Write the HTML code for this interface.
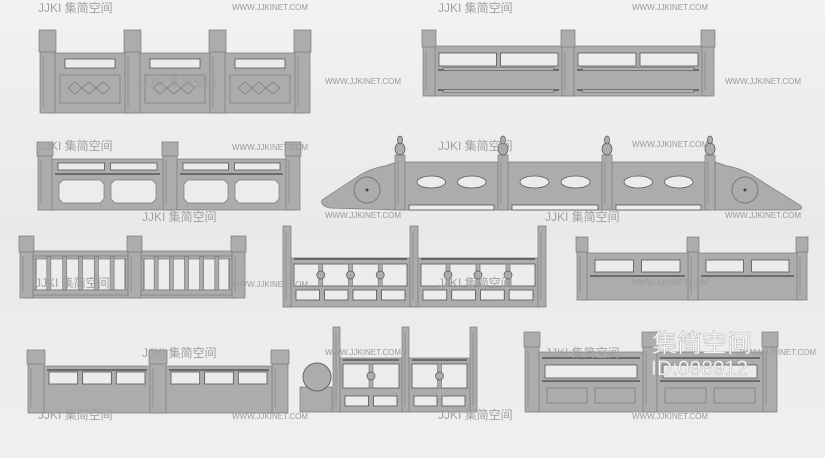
<!DOCTYPE html>
<html><head><meta charset="utf-8">
<style>
html,body{margin:0;padding:0;}
body{width:825px;height:458px;overflow:hidden;background:linear-gradient(180deg,#f2f2f2 0%,#e9e9e9 50%,#f0f0f0 100%);font-family:"Liberation Sans","Noto Sans CJK SC",sans-serif;}
svg{position:absolute;left:0;top:0;}
.w{font-family:"Liberation Sans",sans-serif;font-size:8px;fill:#9a9a9a;}
.j{font-family:"Liberation Sans","Noto Sans CJK SC",sans-serif;font-size:12px;fill:#a0a0a0;}
.big{font-family:"Liberation Sans","Noto Sans CJK SC",sans-serif;fill:#fff;stroke:#b8b8b8;stroke-width:0.6;}
</style></head>
<body>
<svg id="s" width="825" height="458" viewBox="0 0 825 458" xmlns="http://www.w3.org/2000/svg">
<g id="g"></g>
<g id="t">
<text class="w" x="232" y="10">WWW.JJKINET.COM</text>
<text class="w" x="632" y="10">WWW.JJKINET.COM</text>
<text class="j" x="438" y="12">JJKI 集简空间</text>
<text class="j" x="38" y="12">JJKI 集简空间</text>
<text class="w" x="325" y="84">WWW.JJKINET.COM</text>
<text class="w" x="725" y="84">WWW.JJKINET.COM</text>
<text class="j" x="142" y="86">JJKI 集简空间</text>
<text class="j" x="38" y="150">JJKI 集简空间</text>
<text class="j" x="438" y="150">JJKI 集简空间</text>
<text class="w" x="232" y="150">WWW.JJKINET.COM</text>
<text class="w" x="632" y="147">WWW.JJKINET.COM</text>
<text class="w" x="325" y="218">WWW.JJKINET.COM</text>
<text class="w" x="725" y="218">WWW.JJKINET.COM</text>
<text class="j" x="545" y="221">JJKI 集简空间</text>
<text class="j" x="142" y="221">JJKI 集简空间</text>
<text class="j" x="35" y="287">JJKI 集简空间</text>
<text class="j" x="438" y="287">JJKI 集简空间</text>
<text class="w" x="232" y="287">WWW.JJKINET.COM</text>
<text class="w" x="632" y="285">WWW.JJKINET.COM</text>
<text class="j" x="142" y="357">JJKI 集简空间</text>
<text class="j" x="545" y="357">JJKI 集简空间</text>
<text class="w" x="325" y="355">WWW.JJKINET.COM</text>
<text class="w" x="740" y="355">WWW.JJKINET.COM</text>
<text class="j" x="38" y="419">JJKI 集简空间</text>
<text class="j" x="438" y="419">JJKI 集简空间</text>
<text class="w" x="232" y="419">WWW.JJKINET.COM</text>
<text class="w" x="632" y="419">WWW.JJKINET.COM</text>
<text class="big" x="652" y="352" font-size="25">集简空间</text>
<text class="big" x="651" y="375" font-size="21">ID:098912</text>
</g>
</svg>
<script>
var g=document.getElementById('g'),NS='http://www.w3.org/2000/svg';
var ST='#acacac',SK='#7a7a7a',HO='#ececec';
function el(n,a){var e=document.createElementNS(NS,n);for(var k in a)e.setAttribute(k,a[k]);g.appendChild(e);return e;}
function R(x,y,w,h,f){el('rect',{x:x,y:y,width:w,height:h,fill:f||ST,stroke:SK,'stroke-width':0.7});}
function H(x,y,w,h){el('rect',{x:x,y:y,width:w,height:h,fill:HO,stroke:'#555','stroke-width':0.8});}
function L(x1,y1,x2,y2,c,w){el('line',{x1:x1,y1:y1,x2:x2,y2:y2,stroke:c||'#555','stroke-width':w||1});}
function P(d,f){el('path',{d:d,fill:f||ST,stroke:SK,'stroke-width':0.7});}
function E(cx,cy,rx,ry,f){el('ellipse',{cx:cx,cy:cy,rx:rx,ry:ry,fill:f||HO,stroke:'#555','stroke-width':0.7});}
function rail(o){
  var p=o.posts;
  R(p[0]+o.pw/2,o.bt,p[p.length-1]-p[0],o.bb-o.bt);
  for(var i=0;i<p.length-1;i++){
    var sx=p[i]+o.pw,ex=p[i+1],sw=ex-sx;
    (o.rows||[]).forEach(function(r){
      var n=r.n,gap=r.gap||6,ow=(sw-gap*(n+1))/n;
      for(var k=0;k<n;k++){var x=sx+gap+k*(ow+gap);
        if(r.oct){P('M'+(x+4)+' '+r.y+'h'+(ow-8)+'l4 4v'+(r.h-8)+'l-4 4h-'+(ow-8)+'l-4 -4v-'+(r.h-8)+'z',HO);}
        else if(r.el){E(x+ow/2,r.y+r.h/2,ow/2,r.h/2);}
        else if(r.pan){R(x,r.y,ow,r.h);}
        else H(x,r.y,ow,r.h);}
    });
    (o.lines||[]).forEach(function(y){L(sx+3,y,ex-3,y,'#444',1.2);});
    if(o.fn)o.fn(sx,ex);
  }
  p.forEach(function(x){
    R(x,o.pt,o.pw,o.bb-o.pt);
    if(o.cap)R(x-1,o.ct,o.pw+2,o.pt-o.ct+2);
    L(x+3,o.pt+6,x+3,o.bb-6,'#8a8a8a',0.8);
  });
}
rail({posts:[40,125,210,295],pw:15,pt:50,bb:113,bt:53,cap:1,ct:30,
 rows:[{y:59,h:9,n:1,gap:10}],
 fn:function(sx,ex){R(sx+5,75,ex-sx-10,28);var cx=(sx+ex)/2;
  P('M'+(cx-22)+' 88l7-6 7 6 7-6 7 6 7-6 7 6-7 6-7-6-7 6-7-6-7 6z','none');}});
rail({posts:[423,562,702],pw:12,pt:45,bb:96,bt:46,cap:1,ct:30,
 rows:[{y:53,h:13,n:2,gap:4}],lines:[70,90],
 fn:function(sx,ex){H(sx+8,68,ex-sx-16,2);H(sx+8,90,ex-sx-16,2);}});
rail({posts:[38,163,286],pw:14,pt:154,bb:210,bt:159,cap:1,ct:142,
 rows:[{y:163,h:7,n:2,gap:6},{y:180,h:23,n:2,gap:7,oct:1}],lines:[174]});
P('M397 162 L385 166 Q372 168 360 175 Q340 188 322 200 Q320 206 330 208 L397 210z');
P('M715 162 L727 166 Q740 168 752 175 Q772 188 800 205 Q805 210 795 210 L715 210z');
el('circle',{cx:367,cy:190,r:13,fill:'none',stroke:'#777','stroke-width':1});
el('circle',{cx:745,cy:190,r:13,fill:'none',stroke:'#777','stroke-width':1});
el('circle',{cx:367,cy:190,r:1.5,fill:'#444'});el('circle',{cx:745,cy:190,r:1.5,fill:'#444'});
rail({posts:[395,498,602,705],pw:10,pt:155,bb:210,bt:162,
 rows:[{y:176,h:12,n:2,gap:12,el:1}],
 fn:function(sx,ex){H(sx+4,205,ex-sx-8,5);}});
[395,498,602,705].forEach(function(x){E(x+5,149,5,6,ST);E(x+5,140,2.5,4,ST);});
rail({posts:[20,128,232],pw:13,pt:250,bb:298,bt:251,cap:1,ct:236,
 rows:[{y:257,h:33,n:1,gap:3}],
 fn:function(sx,ex){R(sx,256,ex-sx,3);R(sx,290,ex-sx,5);for(var k=1;k<=5;k++){var st=(ex-sx)/6;R(sx+st*k-2,257,4,33);}}});
rail({posts:[283,410,538],pw:8,pt:226,bb:307,bt:258,
 rows:[{y:264,h:22,n:1,gap:3},{y:290,h:10,n:4,gap:5}],lines:[259],
 fn:function(sx,ex){var st=(ex-sx)/4;for(var k=1;k<4;k++){var x=sx+st*k;R(x-2,264,4,22);E(x,275,4,4,ST);}}});
rail({posts:[577,688,797],pw:10,pt:250,bb:300,bt:253,cap:1,ct:237,
 rows:[{y:260,h:12,n:2,gap:8}],lines:[276]});
rail({posts:[28,150,272],pw:16,pt:362,bb:413,bt:366,cap:1,ct:350,
 rows:[{y:372,h:12,n:3,gap:5}],lines:[370]});
P('M300 387 L332 387 L332 412 L300 412z');
el('circle',{cx:317,cy:377,r:14,fill:ST,stroke:'#666','stroke-width':1});
rail({posts:[333,402,470],pw:7,pt:327,bb:412,bt:358,
 rows:[{y:364,h:24,n:1,gap:3},{y:396,h:10,n:2,gap:5}],lines:[360],
 fn:function(sx,ex){var x=(sx+ex)/2;R(x-2,364,4,24);E(x,376,4,4,ST);}});
rail({posts:[525,643,763],pw:14,pt:345,bb:412,bt:352,cap:1,ct:332,
 rows:[{y:365,h:13,n:1,gap:6},{y:388,h:15,n:2,gap:8,pan:1}],lines:[358,381]});
</script>
</body></html>
